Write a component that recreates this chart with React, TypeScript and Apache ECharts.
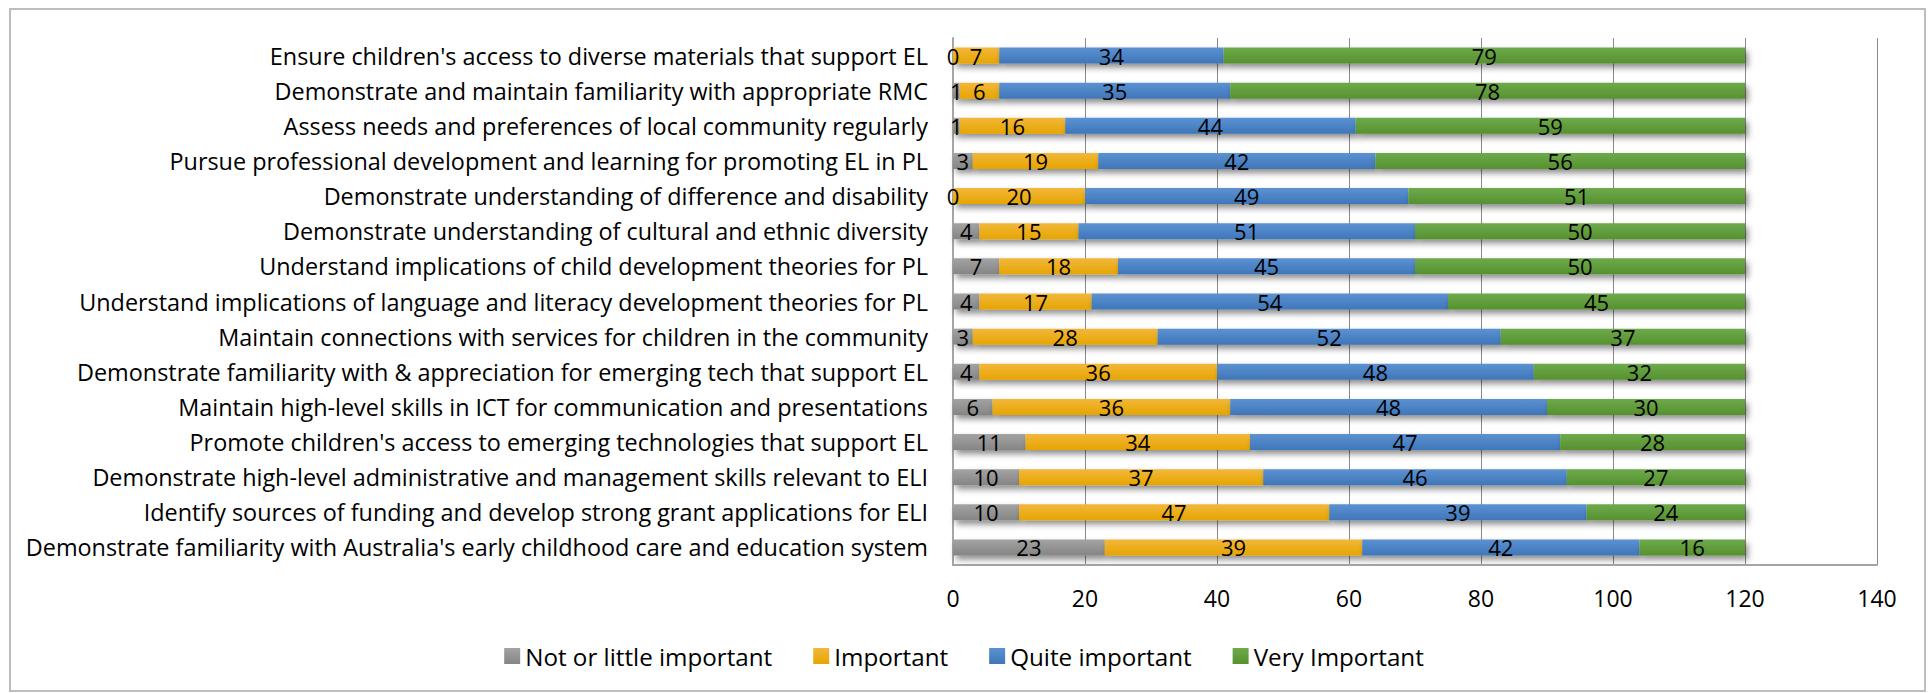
import React, { useEffect, useRef } from "react";
import * as echarts from "echarts";

const categories = [
  "Ensure children's access to diverse materials that support EL",
  "Demonstrate and maintain familiarity with appropriate RMC",
  "Assess needs and preferences of local community regularly",
  "Pursue professional development and learning for promoting EL in PL",
  "Demonstrate understanding of difference and disability",
  "Demonstrate understanding of cultural and ethnic diversity",
  "Understand implications of child development theories for PL",
  "Understand implications of language and literacy development theories for PL",
  "Maintain connections with services for children in the community",
  "Demonstrate familiarity with & appreciation for emerging tech that support EL",
  "Maintain high-level skills in ICT for communication and presentations",
  "Promote children's access to emerging technologies that support EL",
  "Demonstrate high-level administrative and management skills relevant to ELI",
  "Identify sources of funding and develop strong grant applications for ELI",
  "Demonstrate familiarity with Australia's early childhood care and education system",
];

const notOrLittle = [0, 1, 1, 3, 0, 4, 7, 4, 3, 4, 6, 11, 10, 10, 23];
const important = [7, 6, 16, 19, 20, 15, 18, 17, 28, 36, 36, 34, 37, 47, 39];
const quiteImportant = [34, 35, 44, 42, 49, 51, 45, 54, 52, 48, 48, 47, 46, 39, 42];
const veryImportant = [79, 78, 59, 56, 51, 50, 50, 45, 37, 32, 30, 28, 27, 24, 16];

const seriesNames = ["Not or little important", "Important", "Quite important", "Very Important"];
const xTicks = { min: 0, max: 140, interval: 20 };

const FONT = "'Open Sans', 'Noto Sans', sans-serif";

function grad(top: string, bottom: string) {
  return new echarts.graphic.LinearGradient(0, 0, 0, 1, [
    { offset: 0, color: top },
    { offset: 1, color: bottom },
  ]);
}

export default function App() {
  const ref = useRef<HTMLDivElement>(null);
  useEffect(() => {
    document.body.style.margin = "0";
    if (!ref.current) return;
    const chart = echarts.init(ref.current, null, { renderer: "svg" });
    const colors = [
      grad("#a3a3a3", "#858585"),
      grad("#f2b73c", "#e6a500"),
      grad("#5c92d2", "#3f76b8"),
      grad("#6eaa4c", "#56912f"),
    ];
    const data = [notOrLittle, important, quiteImportant, veryImportant];
    const series = data.map((d, i) => ({
      name: seriesNames[i],
      type: "bar",
      stack: "total",
      data: d,
      barWidth: 16,
      itemStyle: {
        color: colors[i],
        shadowColor: "rgba(0,0,0,0.45)",
        shadowBlur: 6,
        shadowOffsetX: 3,
        shadowOffsetY: 4,
      },
      label: {
        show: true,
        position: "inside",
        color: "#000",
        fontSize: 22,
        fontFamily: FONT,
      },
    }));
    chart.setOption({
      animation: false,
      backgroundColor: "#fff",
      textStyle: { fontFamily: FONT },
      graphic: [
        {
          type: "rect",
          shape: { x: 10, y: 9, width: 1915, height: 682 },
          style: { fill: "none", stroke: "#bdbdbd", lineWidth: 2 },
          silent: true,
        },
      ],
      grid: { left: 953, right: 51, top: 38, bottom: 128, containLabel: false },
      legend: {
        data: seriesNames,
        left: "center",
        top: 639,
        itemWidth: 16,
        itemHeight: 16,
        itemGap: 41,
        icon: "rect",
        textStyle: { fontSize: 24.2, color: "#000", fontFamily: FONT },
      },
      xAxis: {
        type: "value",
        min: xTicks.min,
        max: xTicks.max,
        interval: xTicks.interval,
        axisLine: { show: true, lineStyle: { color: "#a6a6a6", width: 2 } },
        axisTick: { show: false },
        splitLine: { show: true, lineStyle: { color: "#8a8a8a", width: 1 } },
        axisLabel: { fontSize: 23, color: "#000", margin: 21, fontFamily: FONT },
      },
      yAxis: {
        type: "category",
        inverse: true,
        data: categories,
        axisLine: { show: true, lineStyle: { color: "#a6a6a6", width: 2 } },
        axisTick: { show: false },
        axisLabel: { fontSize: 23.4, color: "#000", margin: 25, fontFamily: FONT },
      },
      series,
    });
    return () => chart.dispose();
  }, []);
  return <div ref={ref} style={{ width: 1928, height: 693 }} />;
}
